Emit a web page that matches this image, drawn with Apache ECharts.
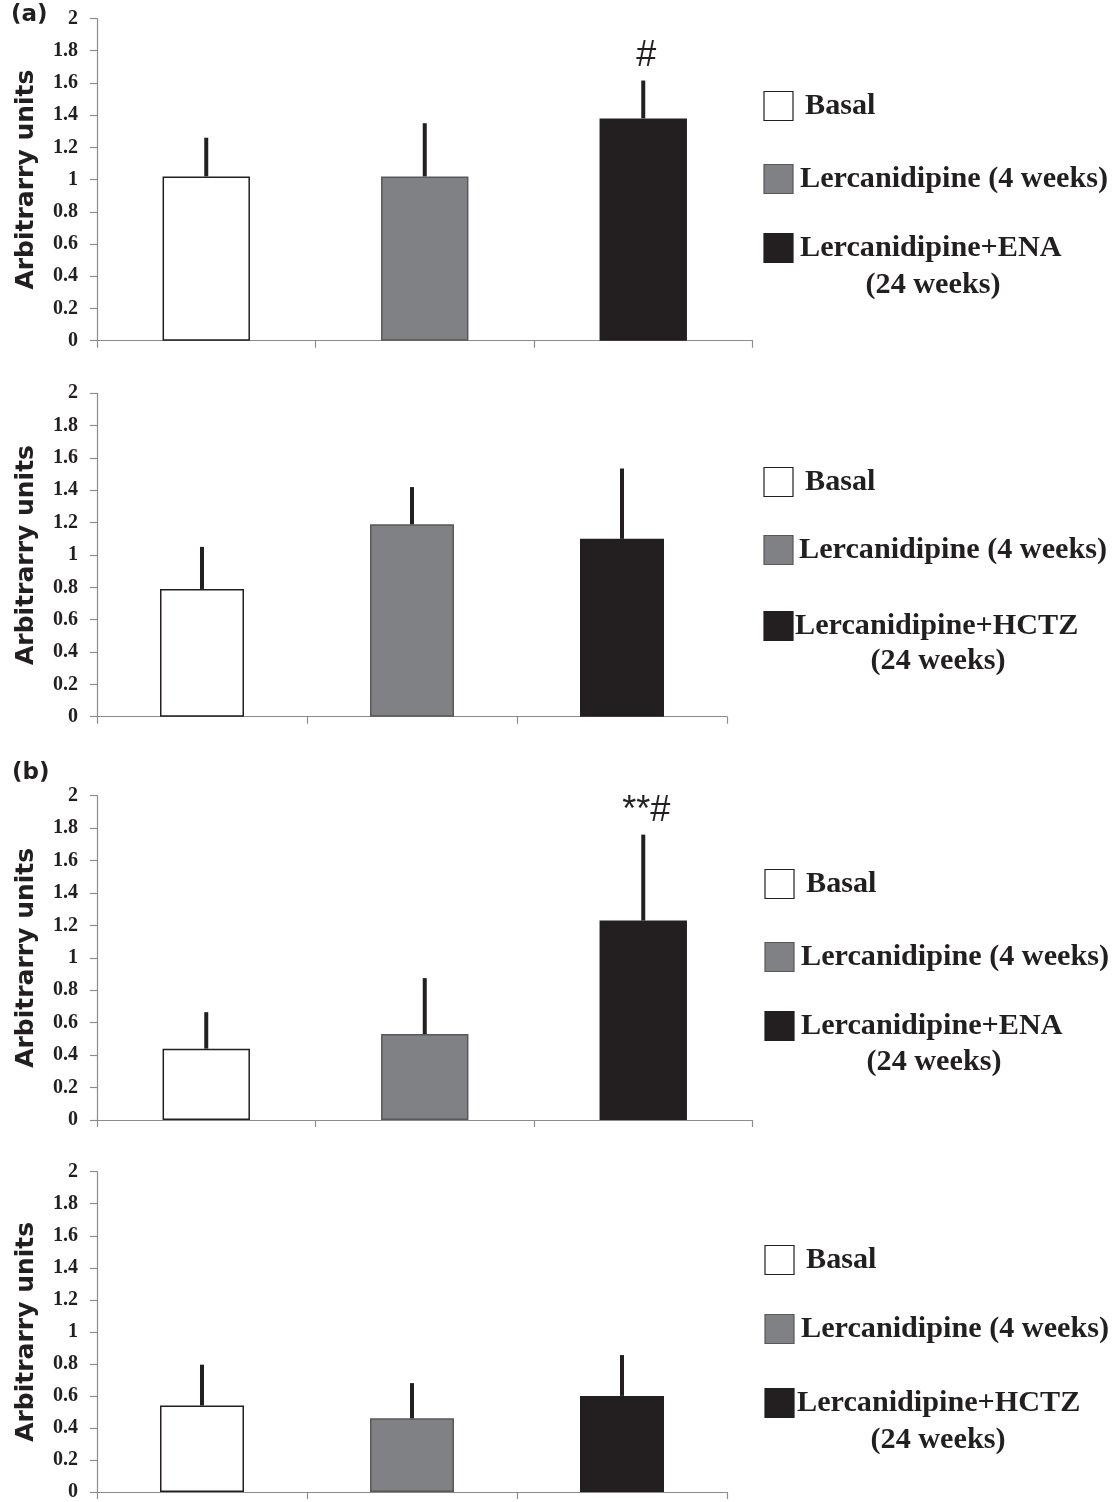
<!DOCTYPE html>
<html><head><meta charset="utf-8">
<script src="https://cdn.jsdelivr.net/npm/echarts@6/dist/echarts.min.js"></script>
<style>html,body{margin:0;padding:0;background:#fff}#c{width:1115px;height:1502px}</style>
</head><body><div id="c"></div>
<script>
// ---------------- DATA ----------------
const categories = ['Basal', 'Lercanidipine (4 weeks)', 'Lercanidipine (24 weeks)'];
const yTickLabels = ['0', '0.2', '0.4', '0.6', '0.8', '1', '1.2', '1.4', '1.6', '1.8', '2'];

const legendENA  = ['Basal', 'Lercanidipine (4 weeks)', 'Lercanidipine+ENA', '(24 weeks)'];
const legendHCTZ = ['Basal', 'Lercanidipine (4 weeks)', 'Lercanidipine+HCTZ', '(24 weeks)'];

// (a) ENA panel
const meansA1 = [1.02, 1.02, 1.38];
const sdA1    = [0.24, 0.33, 0.235];
const annotA1 = ['', '', '#'];
// (a) HCTZ panel
const meansA2 = [0.79, 1.19, 1.10];
const sdA2    = [0.26, 0.23, 0.435];
const annotA2 = ['', '', ''];
// (b) ENA panel
const meansB1 = [0.44, 0.53, 1.23];
const sdB1    = [0.225, 0.345, 0.53];
const annotB1 = ['', '', '**#'];
// (b) HCTZ panel
const meansB2 = [0.54, 0.46, 0.60];
const sdB2    = [0.255, 0.22, 0.255];
const annotB2 = ['', '', ''];

const panelLetters = ['(a)', '(b)'];
const yAxisName = 'Arbitrarry units';

// ---------------- STYLE ----------------
const INK = '#231f20';
const AXIS = '#8c8c8c';
const barFill   = ['#ffffff', '#808184', '#231f20'];
const barBorder = ['#231f20', '#58585a', '#231f20'];

const panels = [
  { means: meansA1, sd: sdA1, annot: annotA1, legend: legendENA,
    grid: { left: 97, top: 18.5, width: 655.5, height: 322.2 },
    leg: { boxX: 764, rows: [106, 179, 248], textX: [805, 800, 800], subX: 933, subY: 285 } },
  { means: meansA2, sd: sdA2, annot: annotA2, legend: legendHCTZ,
    grid: { left: 97, top: 393.3, width: 630, height: 323.4 },
    leg: { boxX: 764, rows: [482, 550, 626], textX: [805, 799, 795], subX: 938, subY: 661 } },
  { means: meansB1, sd: sdB1, annot: annotB1, legend: legendENA,
    grid: { left: 97, top: 795.7, width: 655.5, height: 324.3 },
    leg: { boxX: 765, rows: [884, 957, 1026], textX: [806, 801, 801], subX: 934, subY: 1062 } },
  { means: meansB2, sd: sdB2, annot: annotB2, legend: legendHCTZ,
    grid: { left: 97, top: 1171.7, width: 630, height: 323.3 },
    leg: { boxX: 765, rows: [1260, 1329, 1403], textX: [806, 801, 797], subX: 938, subY: 1440 } }
];

const grids = [], xAxes = [], yAxes = [], series = [], graphics = [];

panels.forEach((p, k) => {
  grids.push(Object.assign({ containLabel: false }, p.grid));
  xAxes.push({
    type: 'category', gridIndex: k, data: categories,
    axisLine: { lineStyle: { color: AXIS, width: 1.2 } },
    axisTick: { show: true, length: 7, interval: 0, lineStyle: { color: AXIS, width: 1.2 } },
    axisLabel: { show: false }, splitLine: { show: false }
  });
  yAxes.push({
    type: 'value', gridIndex: k, min: 0, max: 2, interval: 0.2,
    name: yAxisName, nameLocation: 'middle', nameGap: 58, nameRotate: 90,
    nameTextStyle: { fontFamily: 'DejaVu Sans', fontWeight: 'bold', fontSize: 25, color: INK },
    axisLine: { show: true, lineStyle: { color: AXIS, width: 1.2 } },
    axisTick: { show: true, length: 7, lineStyle: { color: AXIS, width: 1.2 } },
    axisLabel: {
      margin: 19, fontFamily: 'Liberation Serif', fontWeight: 'bold', fontSize: 20, color: INK,
      formatter: (v) => yTickLabels[Math.round(v / 0.2)]
    },
    splitLine: { show: false }
  });
  series.push({
    type: 'bar', xAxisIndex: k, yAxisIndex: k, barWidth: '40%', silent: true,
    data: p.means.map((m, i) => ({
      value: m,
      itemStyle: { color: barFill[i], borderColor: barBorder[i], borderWidth: 1.5 }
    })),
    z: 2
  });
  const annot = p.annot;
  series.push({
    type: 'custom', xAxisIndex: k, yAxisIndex: k, silent: true, z: 3,
    data: p.means.map((m, i) => [i, m, p.sd[i]]),
    renderItem: (params, api) => {
      const x = api.value(0), m = api.value(1), s = api.value(2);
      const a = api.coord([x, m]);
      const b = api.coord([x, m + s]);
      const children = [{
        type: 'line',
        shape: { x1: a[0], y1: a[1], x2: b[0], y2: b[1] },
        style: { stroke: INK, lineWidth: 4 }
      }];
      const t = annot[params.dataIndex];
      if (t) {
        children.push({
          type: 'text',
          style: {
            text: t, x: b[0] + 3, y: b[1] - 6,
            textAlign: 'center', textVerticalAlign: 'bottom',
            fontFamily: 'Liberation Sans', fontSize: 36, fill: INK
          }
        });
      }
      return { type: 'group', children };
    }
  });
  // legend (drawn with graphic elements)
  const L = p.leg;
  for (let i = 0; i < 3; i++) {
    graphics.push({
      type: 'rect',
      shape: { x: L.boxX, y: L.rows[i] - 14.5, width: 29, height: 29 },
      style: { fill: barFill[i], stroke: barBorder[i], lineWidth: 1.2 }
    });
    graphics.push({
      type: 'text',
      style: {
        text: p.legend[i], x: L.textX[i], y: L.rows[i],
        textVerticalAlign: 'middle', textAlign: 'left',
        fontFamily: 'Liberation Serif', fontWeight: 'bold', fontSize: 30.2, fill: INK
      }
    });
  }
  graphics.push({
    type: 'text',
    style: {
      text: p.legend[3], x: L.subX, y: L.subY,
      textVerticalAlign: 'middle', textAlign: 'center',
      fontFamily: 'Liberation Serif', fontWeight: 'bold', fontSize: 30.2, fill: INK
    }
  });
});

const titles = [
  { text: panelLetters[0], left: 11, top: 4 },
  { text: panelLetters[1], left: 12, top: 762 }
].map(t => Object.assign(t, {
  padding: 0,
  textStyle: { fontFamily: 'DejaVu Sans', fontWeight: 'bold', fontSize: 23, color: INK }
}));

const chart = echarts.init(document.getElementById('c'), null, { renderer: 'canvas' });
chart.setOption({
  backgroundColor: '#ffffff',
  animation: false,
  title: titles,
  grid: grids,
  xAxis: xAxes,
  yAxis: yAxes,
  series: series,
  graphic: graphics
});
</script>
</body></html>
